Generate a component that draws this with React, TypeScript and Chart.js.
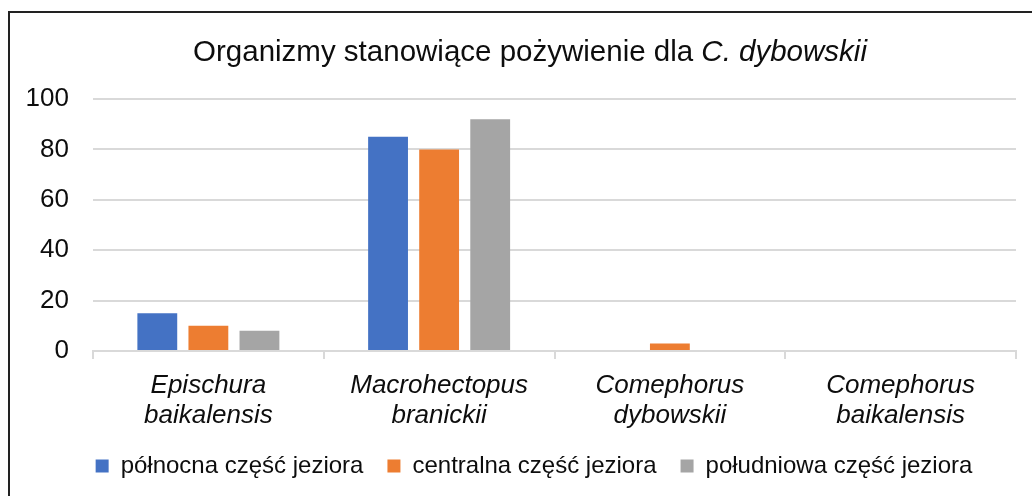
import React, { useEffect, useRef } from "react";
import { Chart, registerables } from "chart.js";

Chart.register(...registerables);

const categories: string[][] = [
  ["Epischura", "baikalensis"],
  ["Macrohectopus", "branickii"],
  ["Comephorus", "dybowskii"],
  ["Comephorus", "baikalensis"],
];
const seriesNames = [
  "północna część jeziora",
  "centralna część jeziora",
  "południowa część jeziora",
];
const northValues = [15, 85, 0, 0];
const centralValues = [10, 80, 3, 0];
const southValues = [8, 92, 0, 0];
const seriesColors = ["#4472C4", "#ED7D31", "#A5A5A5"];
const yTicks = [0, 20, 40, 60, 80, 100];
const titleMain = "Organizmy stanowiące pożywienie dla ";
const titleItalic = "C. dybowskii";

const FONT = "'Liberation Sans', Arial, sans-serif";
const TEXT = "#0d0d0d";

const titlePlugin = {
  id: "mixedTitle",
  afterLayout(chart: any) {
    // centre the legend under the whole chart frame, like the reference
    const lg = chart.legend;
    if (lg) {
      lg.left += 16;
      lg.right += 16;
    }
  },
  afterDraw(chart: any) {
    const ctx = chart.ctx;
    ctx.save();
    const size = 29.5;
    const normal = `normal ${size}px ${FONT}`;
    const italic = `italic ${size}px ${FONT}`;
    ctx.font = normal;
    const w1 = ctx.measureText(titleMain).width;
    ctx.font = italic;
    const w2 = ctx.measureText(titleItalic).width;
    const cx = 530;
    const y = 53;
    const x = cx - (w1 + w2) / 2;
    ctx.fillStyle = TEXT;
    ctx.textBaseline = "middle";
    ctx.textAlign = "left";
    ctx.font = normal;
    ctx.fillText(titleMain, x, y);
    ctx.font = italic;
    ctx.fillText(titleItalic, x + w1, y);
    ctx.restore();
  },
};

export default function App() {
  const canvasRef = useRef<HTMLCanvasElement | null>(null);

  useEffect(() => {
    const canvas = canvasRef.current;
    if (!canvas) return;
    const values = [northValues, centralValues, southValues];
    const chart = new Chart(canvas, {
      type: "bar",
      data: {
        labels: categories,
        datasets: seriesNames.map((name, i) => ({
          label: name,
          data: values[i],
          backgroundColor: seriesColors[i],
          borderWidth: 0,
          categoryPercentage: 0.664,
          barPercentage: 0.78,
        })),
      },
      options: {
        animation: false,
        responsive: false,
        events: [],
        layout: { padding: { top: 99, left: 20, right: 16, bottom: 8 } },
        plugins: {
          title: { display: false },
          tooltip: { enabled: false },
          legend: {
            display: true,
            position: "bottom",
            align: "center",
            labels: {
              boxWidth: 13,
              boxHeight: 13,
              padding: 24,
              color: TEXT,
              font: { family: FONT, size: 24 },
            },
          },
        },
        scales: {
          x: {
            afterFit(scale: any) {
              scale.height = 79;
            },
            border: { display: true, color: "#d9d9d9", width: 2 },
            grid: {
              display: true,
              offset: true,
              drawOnChartArea: false,
              drawTicks: true,
              tickLength: 8,
              color: "#d9d9d9",
              lineWidth: 2,
            },
            ticks: {
              color: TEXT,
              padding: 12,
              maxRotation: 0,
              autoSkip: false,
              font: { family: FONT, size: 26, style: "italic", lineHeight: 1.15 },
            },
          },
          y: {
            min: 0,
            max: 100,
            afterFit(scale: any) {
              scale.width = 73;
            },
            afterBuildTicks(scale: any) {
              scale.ticks = yTicks.map((v) => ({ value: v }));
            },
            border: { display: false },
            grid: {
              color: "#d9d9d9",
              lineWidth: 2,
              drawTicks: false,
            },
            ticks: {
              color: TEXT,
              padding: 24,
              font: { family: FONT, size: 26 },
            },
          },
        },
      },
      plugins: [titlePlugin],
    } as any);
    return () => chart.destroy();
  }, []);

  return (
    <div
      style={{
        position: "fixed",
        left: 0,
        top: 0,
        width: 1032,
        height: 496,
        overflow: "hidden",
        background: "#fff",
      }}
    >
      <canvas
        ref={canvasRef}
        width={1032}
        height={496}
        style={{ position: "absolute", left: 0, top: 0, width: 1032, height: 496 }}
      />
      <div
        style={{
          position: "absolute",
          left: 8,
          top: 11,
          width: 1100,
          height: 600,
          border: "2px solid #222",
          boxSizing: "border-box",
        }}
      />
    </div>
  );
}
